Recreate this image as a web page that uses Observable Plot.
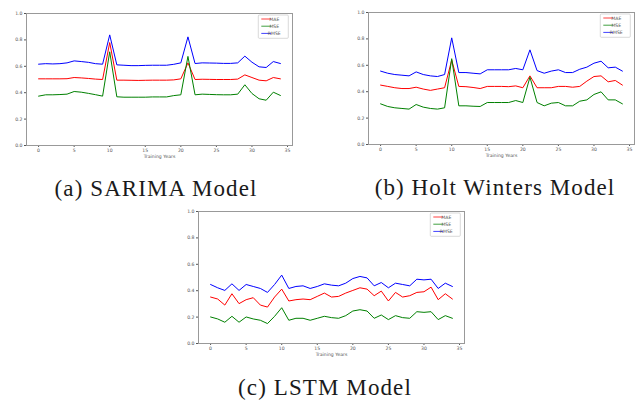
<!DOCTYPE html>
<html>
<head>
<meta charset="utf-8">
<script src="https://cdn.jsdelivr.net/npm/d3@7"></script>
<script src="https://cdn.jsdelivr.net/npm/@observablehq/plot@0.6"></script>
<style>
  html, body { margin: 0; padding: 0; background: white; }
  #page { position: relative; width: 644px; height: 401px; overflow: hidden; background: white; }
  .panel { position: absolute; }
  #captions { position: absolute; left: 0; top: 0; pointer-events: none; }
  #captions text { font-family: "Liberation Serif", "DejaVu Serif", serif; font-size: 23px; letter-spacing: 1.1px; fill: #1a1a1a; }
</style>
</head>
<body>
<div id="page">
  <div class="panel" id="pa" style="left:0px; top:4.7px;"></div>
  <div class="panel" id="pb" style="left:342px; top:4px;"></div>
  <div class="panel" id="pc" style="left:172px; top:202.7px;"></div>
</div>
<script>
// ---------- data ----------
const years = [0,1,2,3,4,5,6,7,8,9,10,11,12,13,14,15,16,17,18,19,20,21,22,23,24,25,26,27,28,29,30,31,32,33,34];
const seriesNames = ["MAE", "MSE", "RMSE"];
const seriesColors = ["#ff0000", "#008000", "#0000ff"];
const xTicks = [0, 5, 10, 15, 20, 25, 30, 35];
const yTicks = [0, 0.2, 0.4, 0.6, 0.8, 1.0];
const xLabel = "Training Years";
const captions = ["(a) SARIMA Model", "(b) Holt Winters Model", "(c) LSTM Model"];

const sarimaMAE  = [0.505,0.505,0.505,0.505,0.506,0.515,0.512,0.508,0.503,0.500,0.780,0.495,0.495,0.494,0.493,0.494,0.495,0.495,0.495,0.497,0.505,0.626,0.500,0.502,0.501,0.500,0.500,0.500,0.503,0.535,0.515,0.495,0.490,0.515,0.505];
const sarimaMSE  = [0.374,0.384,0.384,0.386,0.389,0.409,0.404,0.395,0.385,0.374,0.710,0.369,0.366,0.366,0.366,0.366,0.368,0.368,0.368,0.378,0.384,0.675,0.384,0.389,0.387,0.385,0.384,0.384,0.389,0.460,0.394,0.354,0.343,0.404,0.379];
const sarimaRMSE = [0.616,0.620,0.618,0.620,0.626,0.641,0.636,0.630,0.620,0.616,0.838,0.611,0.608,0.605,0.605,0.607,0.608,0.608,0.608,0.615,0.626,0.823,0.621,0.626,0.625,0.624,0.622,0.622,0.626,0.677,0.631,0.596,0.591,0.636,0.621];

const holtMAE  = [0.450,0.440,0.430,0.424,0.424,0.434,0.420,0.410,0.420,0.430,0.640,0.440,0.438,0.432,0.424,0.440,0.440,0.440,0.438,0.444,0.430,0.520,0.430,0.430,0.430,0.440,0.440,0.434,0.440,0.480,0.515,0.520,0.475,0.485,0.450];
const holtMSE  = [0.308,0.288,0.278,0.273,0.268,0.303,0.283,0.273,0.268,0.278,0.650,0.293,0.293,0.290,0.288,0.318,0.318,0.318,0.318,0.333,0.318,0.510,0.318,0.293,0.313,0.318,0.293,0.293,0.328,0.338,0.379,0.399,0.338,0.338,0.308];
const holtRMSE = [0.556,0.540,0.530,0.525,0.520,0.550,0.530,0.520,0.515,0.530,0.808,0.545,0.545,0.540,0.535,0.566,0.566,0.566,0.566,0.576,0.566,0.717,0.560,0.540,0.556,0.566,0.545,0.545,0.570,0.586,0.616,0.631,0.581,0.586,0.556];

const lstmMAE  = [0.352,0.337,0.291,0.377,0.302,0.332,0.347,0.291,0.276,0.352,0.412,0.322,0.332,0.337,0.332,0.357,0.382,0.352,0.357,0.382,0.402,0.422,0.412,0.362,0.397,0.322,0.387,0.352,0.362,0.387,0.392,0.427,0.332,0.377,0.337];
const lstmMSE  = [0.201,0.186,0.161,0.206,0.161,0.201,0.186,0.176,0.151,0.206,0.271,0.176,0.191,0.191,0.176,0.191,0.206,0.196,0.191,0.211,0.246,0.256,0.246,0.191,0.216,0.181,0.211,0.196,0.191,0.241,0.236,0.241,0.181,0.211,0.191];
const lstmRMSE = [0.447,0.422,0.402,0.452,0.402,0.447,0.432,0.417,0.387,0.447,0.518,0.417,0.432,0.437,0.417,0.432,0.452,0.442,0.437,0.457,0.492,0.508,0.497,0.437,0.462,0.422,0.457,0.447,0.437,0.487,0.482,0.487,0.417,0.457,0.432];

// ---------- geometry ----------
const W = 298, H = 160, ML = 26, MR = 6, MT = 8, MB = 20;

function makePanel(valueSets) {
  const rows = [];
  seriesNames.forEach((s, i) => {
    years.forEach((yr, j) => rows.push({year: yr, value: valueSets[i][j], series: s}));
  });
  const svg = Plot.plot({
    width: W, height: H,
    marginLeft: ML, marginRight: MR, marginTop: MT, marginBottom: MB,
    style: {fontFamily: "DejaVu Sans", fontSize: "4.6px", color: "#555", background: "white", overflow: "visible"},
    x: {domain: [-1.7, 35.7], ticks: xTicks, tickSize: 2, tickPadding: 1.5, label: null},
    y: {domain: [0, 1], ticks: yTicks, tickFormat: d3.format(".1f"), tickSize: 2, tickPadding: 2, label: null},
    color: {domain: seriesNames, range: seriesColors},
    marks: [
      Plot.line(rows, {x: "year", y: "value", z: "series", stroke: "series", strokeWidth: 1}),
      Plot.frame({stroke: "#999", strokeWidth: 1}),
      Plot.text([xLabel], {text: d => d, frameAnchor: "bottom", dy: 12.6, fontSize: 4.6, fill: "#555"})
    ]
  });
  // legend (upper right, inside the frame)
  const right = W - MR, top = MT;
  const g = d3.select(svg).append("g");
  const bx = right - 33.7, by = top + 2;
  g.append("rect").attr("x", bx).attr("y", by).attr("width", 30).attr("height", 23.3)
    .attr("rx", 1).attr("fill", "white").attr("stroke", "#c8c8c8").attr("stroke-width", 0.7);
  seriesNames.forEach((s, i) => {
    const yy = by + 4 + i * 7.2;
    g.append("line").attr("x1", bx + 3).attr("x2", bx + 13).attr("y1", yy).attr("y2", yy)
      .attr("stroke", seriesColors[i]).attr("stroke-width", 1).attr("stroke-opacity", 0.75);
    g.append("text").attr("x", bx + 16).attr("y", yy).attr("dy", "0.35em")
      .attr("font-family", "DejaVu Sans").attr("font-size", 4.6).attr("fill", "#555").text(s);
  });
  return svg;
}

document.getElementById("pa").appendChild(makePanel([sarimaMAE, sarimaMSE, sarimaRMSE]));
document.getElementById("pb").appendChild(makePanel([holtMAE, holtMSE, holtRMSE]));
document.getElementById("pc").appendChild(makePanel([lstmMAE, lstmMSE, lstmRMSE]));

// captions
const capPos = [[156, 195.5], [495, 195], [325, 395]];
const cap = d3.select("#page").append("svg").attr("id", "captions")
  .attr("width", 644).attr("height", 401);
captions.forEach((c, i) => {
  cap.append("text").attr("x", capPos[i][0]).attr("y", capPos[i][1])
    .attr("text-anchor", "middle").text(c);
});
</script>
</body>
</html>
